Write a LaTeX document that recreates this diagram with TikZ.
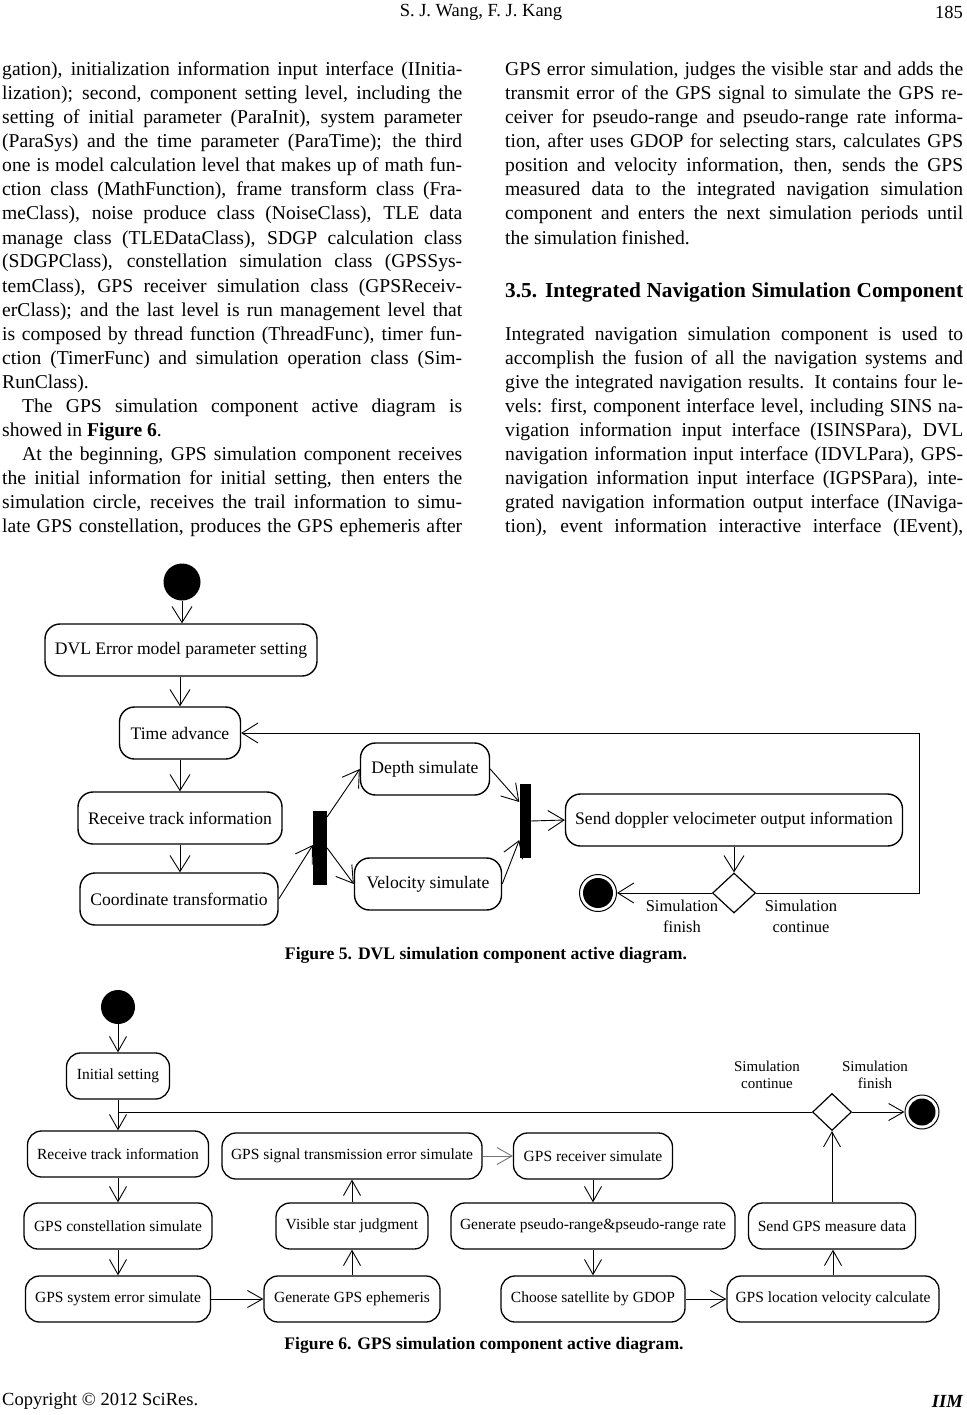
\documentclass[tikz,border=0pt]{standalone}
\usepackage{fontspec}
\setmainfont{Liberation Serif}
\usepackage{tikz}
\usetikzlibrary{arrows.meta,shapes.geometric,calc}

\tikzset{
	bodytxt/.style={anchor=base west,inner sep=0pt,font=\fontsize{19.6}{24}\selectfont},
	hdtxt/.style={inner sep=0pt,font=\fontsize{18.5}{22}\selectfont},
	captxt/.style={inner sep=0pt,font=\bfseries\fontsize{17.6}{20}\selectfont},
	sectxt/.style={anchor=base west,inner sep=0pt,font=\bfseries\fontsize{21.3}{26}\selectfont},
	actA/.style={draw,line width=1.4pt,rounded corners=15pt,inner sep=0pt,minimum height=52pt,font=\fontsize{17.6}{20}\selectfont},
	actB/.style={draw,line width=1.3pt,rounded corners=14pt,inner sep=0pt,minimum height=46pt,font=\fontsize{15.5}{18}\selectfont},
	startnode/.style={circle,fill=black,inner sep=0pt,minimum size=#1},
	endnode/.style={circle,draw,line width=1pt,fill=white,inner sep=0pt,minimum size=#1,
		path picture={\fill[black] (path picture bounding box.center) circle ({#1/2-3.5pt});}},
	syncbar/.style={fill=black,inner sep=0pt},
	decnode/.style={diamond,draw,line width=1.2pt,fill=white,inner sep=0pt},
	flowA/.style={draw,line width=0.9pt,-{Straight Barb[length=16pt,width=20pt,line width=0.9pt]}},
	flowB/.style={draw,line width=0.9pt,-{Straight Barb[length=15pt,width=17pt,line width=0.9pt]}},
	guardA/.style={inner sep=0pt,align=center,font=\fontsize{16.5}{21}\selectfont},
	guardB/.style={inner sep=0pt,align=center,font=\fontsize{15}{17}\selectfont}
}
\newcommand{\lcol}[1]{\makebox[460pt][s]{#1}}
\newcommand{\rcol}[1]{\makebox[458pt][s]{#1}}

\begin{document}
\begin{tikzpicture}[x=1pt,y=-1pt]
	\useasboundingbox (0,0) rectangle (966,1415);
	% header
	\node[hdtxt] (hauth) at (481,12) {S. J. Wang, F. J. Kang};
	\node[hdtxt,anchor=east] (hpage) at (963,12) {185};
	% left column
	\node[bodytxt] (l1) at (2,76) {\lcol{gation), initialization information input interface (IInitia-}};
	\node[bodytxt] (l2) at (2,100) {\lcol{lization); second, component setting level, including the}};
	\node[bodytxt] (l3) at (2,124) {\lcol{setting of initial parameter (ParaInit), system parameter}};
	\node[bodytxt] (l4) at (2,148) {\lcol{(ParaSys) and the time parameter (ParaTime); the third}};
	\node[bodytxt] (l5) at (2,172) {\lcol{one is model calculation level that makes up of math fun-}};
	\node[bodytxt] (l6) at (2,196) {\lcol{ction class (MathFunction), frame transform class (Fra-}};
	\node[bodytxt] (l7) at (2,220) {\lcol{meClass), noise produce class (NoiseClass), TLE data}};
	\node[bodytxt] (l8) at (2,244) {\lcol{manage class (TLEDataClass), SDGP calculation class}};
	\node[bodytxt] (l9) at (2,268) {\lcol{(SDGPClass), constellation simulation class (GPSSys-}};
	\node[bodytxt] (l10) at (2,292) {\lcol{temClass), GPS receiver simulation class (GPSReceiv-}};
	\node[bodytxt] (l11) at (2,316) {\lcol{erClass); and the last level is run management level that}};
	\node[bodytxt] (l12) at (2,340) {\lcol{is composed by thread function (ThreadFunc), timer fun-}};
	\node[bodytxt] (l13) at (2,364) {\lcol{ction (TimerFunc) and simulation operation class (Sim-}};
	\node[bodytxt] (l14) at (2,388) {RunClass).};
	\node[bodytxt] (l15) at (2,412) {\lcol{\hspace*{20pt}The GPS simulation component active diagram is}};
	\node[bodytxt] (l16) at (2,436) {showed in \textbf{Figure 6}.};
	\node[bodytxt] (l17) at (2,460) {\lcol{\hspace*{20pt}At the beginning, GPS simulation component receives}};
	\node[bodytxt] (l18) at (2,484) {\lcol{the initial information for initial setting, then enters the}};
	\node[bodytxt] (l19) at (2,508) {\lcol{simulation circle, receives the trail information to simu-}};
	\node[bodytxt] (l20) at (2,532) {\lcol{late GPS constellation, produces the GPS ephemeris after}};
	% right column
	\node[bodytxt] (r1) at (505,76) {\rcol{GPS error simulation, judges the visible star and adds the}};
	\node[bodytxt] (r2) at (505,100) {\rcol{transmit error of the GPS signal to simulate the GPS re-}};
	\node[bodytxt] (r3) at (505,124) {\rcol{ceiver for pseudo-range and pseudo-range rate informa-}};
	\node[bodytxt] (r4) at (505,148) {\rcol{tion, after uses GDOP for selecting stars, calculates GPS}};
	\node[bodytxt] (r5) at (505,172) {\rcol{position and velocity information, then, sends the GPS}};
	\node[bodytxt] (r6) at (505,196) {\rcol{measured data to the integrated navigation simulation}};
	\node[bodytxt] (r7) at (505,220) {\rcol{component and enters the next simulation periods until}};
	\node[bodytxt] (r8) at (505,244) {the simulation finished.};
	\node[sectxt] (sec) at (505,297) {\rcol{3.5. Integrated Navigation Simulation Component}};
	\node[bodytxt] (r9) at (505,340) {\rcol{Integrated navigation simulation component is used to}};
	\node[bodytxt] (r10) at (505,364) {\rcol{accomplish the fusion of all the navigation systems and}};
	\node[bodytxt] (r11) at (505,388) {\rcol{give the integrated navigation results. It contains four le-}};
	\node[bodytxt] (r12) at (505,412) {\rcol{vels: first, component interface level, including SINS na-}};
	\node[bodytxt] (r13) at (505,436) {\rcol{vigation information input interface (ISINSPara), DVL}};
	\node[bodytxt] (r14) at (505,460) {\rcol{navigation information input interface (IDVLPara), GPS-}};
	\node[bodytxt] (r15) at (505,484) {\rcol{navigation information input interface (IGPSPara), inte-}};
	\node[bodytxt] (r16) at (505,508) {\rcol{grated navigation information output interface (INaviga-}};
	\node[bodytxt] (r17) at (505,532) {\rcol{tion), event information interactive interface (IEvent),}};

	% Figure 5
	\node[startnode=37pt] (dstart) at (182,582) {};
	\node[actA,minimum width=272pt] (dvlset) at (181,650) {DVL Error model parameter setting};
	\node[actA,minimum width=121pt] (timeadv) at (180,733) {Time advance};
	\node[actA,minimum width=204pt] (recvtrk) at (180,818) {Receive track information};
	\node[actA,minimum width=198pt] (coordtr) at (179,899) {Coordinate transformatio};
	\node[syncbar,minimum width=14pt,minimum height=74pt] (fork) at (320,848) {};
	\node[actA,minimum width=129pt] (depth) at (425,769) {Depth simulate};
	\node[actA,minimum width=147pt] (velo) at (428,884) {Velocity simulate};
	\node[syncbar,minimum width=11pt,minimum height=74pt] (join) at (525,821) {};
	\node[actA,minimum width=337pt] (senddop) at (734,820) {Send doppler velocimeter output information};
	\node[decnode,minimum width=43pt,minimum height=40pt] (ddec) at (734,893) {};
	\node[endnode=37pt] (dend) at (598,893) {};
	\coordinate (dloop) at (919,800);
	\node[guardA] (dfin) at (682,916) {Simulation\\finish};
	\node[guardA] (dcont) at (801,916) {Simulation\\continue};

	\draw[flowA] (dstart) -- (dstart |- dvlset.north);
	\draw[flowA] (timeadv |- dvlset.south) -- (timeadv);
	\draw[flowA] (timeadv) -- (recvtrk);
	\draw[flowA] (recvtrk) -- (recvtrk |- coordtr.north);
	\draw[flowA] (coordtr.east) -- ($(fork.west)+(0,-3)$);
	\draw[flowA] ($(fork.north east)+(0,6)$) -- (depth.west);
	\draw[flowA] (fork.east) -- (velo.west);
	\draw[flowA] (depth.east) -- ($(join.west)+(0,-19)$);
	\draw[flowA] (velo.east) -- ($(join.west)+(0,19)$);
	\draw[flowA] (join.east) -- (senddop.west);
	\draw[flowA] (senddop) -- (ddec.north);
	\draw[flowA] (ddec.west) -- (dend);
	\draw[flowA] (ddec.east) -| (dloop) |- (timeadv.east);
	\node[captxt] (cap5) at (486,955) {Figure 5. DVL simulation component active diagram.};

	% Figure 6
	\node[startnode=34pt] (gstart) at (118,1007) {};
	\node[actB,minimum width=103pt] (initset) at (118,1076) {Initial setting};
	\node[actB,minimum width=181pt] (recvgps) at (118,1154) {Receive track information};
	\node[actB,minimum width=188pt] (constel) at (118,1226) {GPS constellation simulate};
	\node[actB,minimum width=185pt] (syserr) at (118,1299) {GPS system error simulate};
	\node[actB,minimum width=176pt] (ephem) at (352,1299) {Generate GPS ephemeris};
	\node[actB,minimum width=152pt] (visible) at (352,1226) {Visible star judgment};
	\node[actB,minimum width=260pt] (sigerr) at (352,1156) {GPS signal transmission error simulate};
	\node[actB,minimum width=159pt] (receiver) at (593,1156) {GPS receiver simulate};
	\node[actB,minimum width=284pt] (pseudo) at (593,1226) {Generate pseudo-range\&pseudo-range rate};
	\node[actB,minimum width=184pt] (gdop) at (593,1299) {Choose satellite by GDOP};
	\node[actB,minimum width=212pt] (locvel) at (833,1299) {GPS location velocity calculate};
	\node[actB,minimum width=167pt] (sendgps) at (832,1226) {Send GPS measure data};
	\node[decnode,minimum width=39pt,minimum height=37pt] (gdec) at (832,1112) {};
	\node[endnode=34pt] (gend) at (922,1112) {};
	\node[guardB] (gcont) at (767,1075) {Simulation\\continue};
	\node[guardB] (gfin) at (875,1075) {Simulation\\finish};

	\draw[flowB] (gstart) -- (initset);
	\draw[flowB] (initset) -- (recvgps);
	\draw[line width=0.9pt] (gdec.west) -- (gdec.west -| recvgps.north);
	\draw[flowB] (recvgps) -- (constel);
	\draw[flowB] (constel) -- (syserr);
	\draw[flowB] (syserr) -- (ephem);
	\draw[flowB] (ephem) -- (visible);
	\draw[flowB] (visible) -- (sigerr);
	\draw[flowB,draw=black!55] (sigerr) -- (receiver);
	\draw[flowB] (receiver) -- (pseudo);
	\draw[flowB] (pseudo) -- (gdop);
	\draw[flowB] (gdop) -- (locvel);
	\draw[flowB] (locvel) -- (locvel |- sendgps.south);
	\draw[flowB] (sendgps) -- (gdec.south);
	\draw[flowB] (gdec.east) -- (gend);
	\node[captxt] (cap6) at (484,1345) {Figure 6. GPS simulation component active diagram.};

	% footer
	\node[hdtxt,anchor=west] (fcopy) at (2,1401) {Copyright © 2012 SciRes.};
	\node[hdtxt,anchor=east,font=\bfseries\itshape\fontsize{18.5}{22}\selectfont] (fjour) at (963,1401) {IIM};
\end{tikzpicture}
\end{document}
